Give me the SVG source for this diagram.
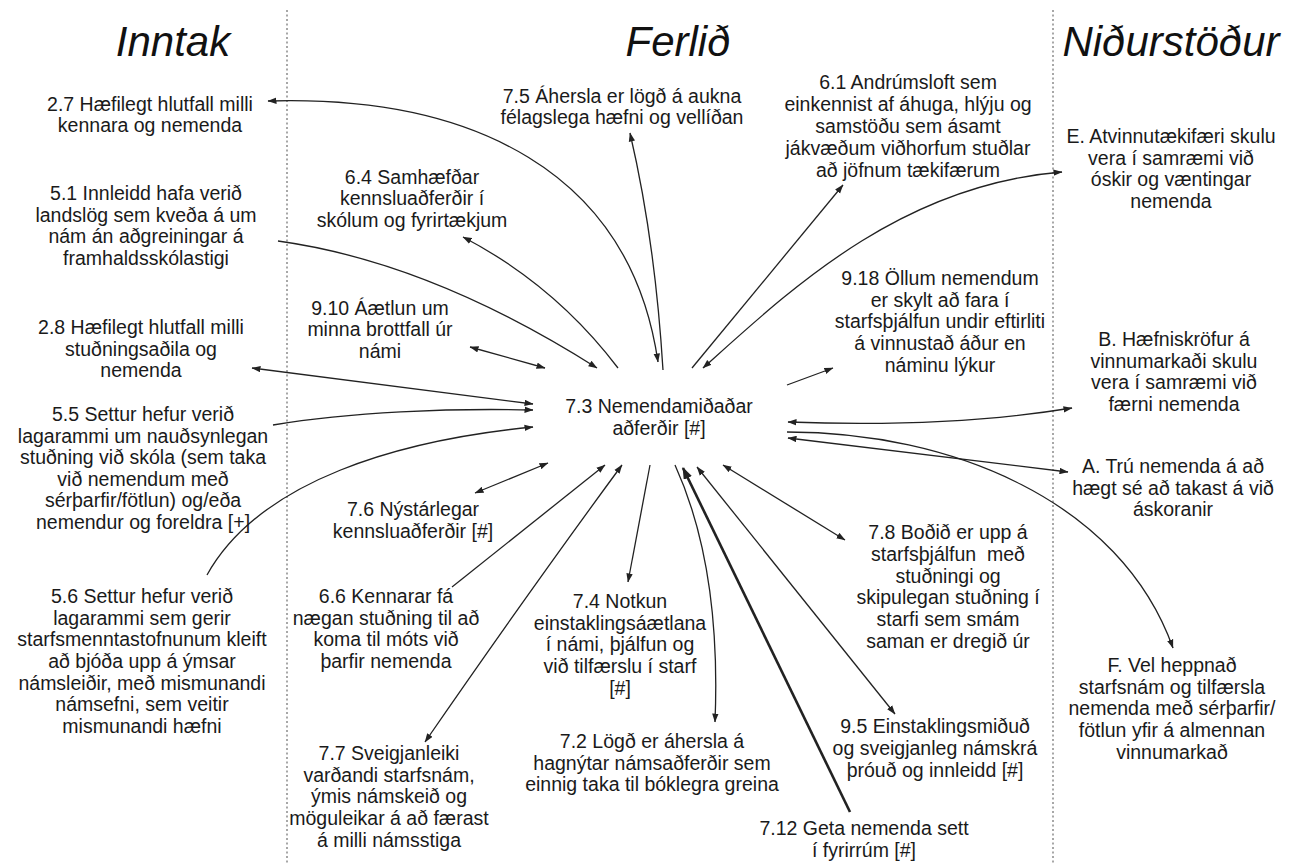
<svg xmlns="http://www.w3.org/2000/svg" width="1293" height="864" viewBox="0 0 1293 864">
  <style>
    .t { font-family: "Liberation Sans", Arial, Helvetica, sans-serif; font-size: 19.5px; fill: #1a1a1a; text-anchor: middle; }
    .h { font-family: "Liberation Sans", Arial, Helvetica, sans-serif; font-size: 42px; font-style: italic; fill: #111; text-anchor: middle; }
    .sep { stroke: #8a8a8a; stroke-width: 1.5; stroke-dasharray: 2 2.5; fill: none; }
    .c { stroke: #222; stroke-width: 1.3; fill: none; }
    .end { marker-end: url(#ah); }
    .both { marker-start: url(#ah); marker-end: url(#ah); }
    .thick { stroke-width: 2.6; marker-end: url(#ahBig); }
  </style>
  <defs>
    <marker id="ah" markerUnits="userSpaceOnUse" markerWidth="9" markerHeight="7" refX="8.5" refY="3.5" orient="auto-start-reverse">
      <path d="M0,0.3 L9,3.5 L0,6.7 z" fill="#222"/>
    </marker>
    <marker id="ahBig" markerUnits="userSpaceOnUse" markerWidth="12" markerHeight="9" refX="11" refY="4.5" orient="auto">
      <path d="M0,0 L12,4.5 L0,9 z" fill="#222"/>
    </marker>
  </defs>
  <rect width="1293" height="864" fill="#fff"/>

  <!-- column separators -->
  <g id="separators">
    <line class="sep" x1="287" y1="10" x2="287" y2="864"/>
    <line class="sep" x1="1053" y1="10" x2="1053" y2="864"/>
  </g>

  <!-- column headings -->
  <g id="headings">
    <text class="h" x="173" y="56">Inntak</text>
    <text class="h" x="678" y="56">Ferlið</text>
    <text class="h" x="1171" y="56">Niðurstöður</text>
  </g>

  <!-- connectors -->
  <g id="connectors">
    <path class="c both" d="M268,101 C470,95 630,170 658,362"/>
    <path class="c end" d="M278,241 Q430,262 597,368"/>
    <path class="c end" d="M618,368 Q555,285 463,237"/>
    <path class="c both" d="M470,347 L545,368"/>
    <path class="c both" d="M252,368 L533,404"/>
    <path class="c end" d="M273,425 C350,412 450,408 533,410"/>
    <path class="c end" d="M207,575 C260,480 400,440 533,427"/>
    <path class="c both" d="M475,493 L548,463"/>
    <path class="c end" d="M452,587 L605,465"/>
    <path class="c both" d="M622,465 Q530,590 425,742"/>
    <path class="c end" d="M650,465 L628,582"/>
    <path class="c end" d="M675,465 C700,520 720,600 715,722"/>
    <path class="c thick" d="M850,812 L683,468"/>
    <path class="c both" d="M697,467 L895,714"/>
    <path class="c both" d="M723,465 L845,540"/>
    <path class="c end" d="M787,432 C950,432 1120,500 1173,648"/>
    <path class="c both" d="M788,438 L1068,472"/>
    <path class="c both" d="M788,422 Q950,428 1072,408"/>
    <path class="c end" d="M787,385 L833,368"/>
    <path class="c end" d="M692,368 L843,185"/>
    <path class="c both" d="M703,368 C790,290 900,185 1062,172"/>
    <path class="c end" d="M663,370 Q655,240 630,133"/>
  </g>

  <!-- Inntak -->
  <g id="n-2-7"><text class="t"><tspan x="150" y="111">2.7 Hæfilegt hlutfall milli</tspan><tspan x="150" y="132">kennara og nemenda</tspan></text></g>
  <g id="n-5-1"><text class="t"><tspan x="146" y="200">5.1 Innleidd hafa verið</tspan><tspan x="146" y="222">landslög sem kveða á um</tspan><tspan x="146" y="243">nám án aðgreiningar á</tspan><tspan x="146" y="265">framhaldsskólastigi</tspan></text></g>
  <g id="n-2-8"><text class="t"><tspan x="141" y="334">2.8 Hæfilegt hlutfall milli</tspan><tspan x="141" y="356">stuðningsaðila og</tspan><tspan x="141" y="377">nemenda</tspan></text></g>
  <g id="n-5-5"><text class="t"><tspan x="143" y="421">5.5 Settur hefur verið</tspan><tspan x="143" y="443">lagarammi um nauðsynlegan</tspan><tspan x="143" y="464">stuðning við skóla (sem taka</tspan><tspan x="143" y="486">við nemendum með</tspan><tspan x="143" y="507">sérþarfir/fötlun) og/eða</tspan><tspan x="143" y="529">nemendur og foreldra [+]</tspan></text></g>
  <g id="n-5-6"><text class="t"><tspan x="142" y="603">5.6 Settur hefur verið</tspan><tspan x="142" y="625">lagarammi sem gerir</tspan><tspan x="142" y="646">starfsmenntastofnunum kleift</tspan><tspan x="142" y="668">að bjóða upp á ýmsar</tspan><tspan x="142" y="690">námsleiðir, með mismunandi</tspan><tspan x="142" y="711">námsefni, sem veitir</tspan><tspan x="142" y="733">mismunandi hæfni</tspan></text></g>

  <!-- Ferlið -->
  <g id="n-7-5"><text class="t"><tspan x="622" y="103">7.5 Áhersla er lögð á aukna</tspan><tspan x="622" y="124">félagslega hæfni og vellíðan</tspan></text></g>
  <g id="n-6-4"><text class="t"><tspan x="412" y="184">6.4 Samhæfðar</tspan><tspan x="412" y="205">kennsluaðferðir í</tspan><tspan x="412" y="227">skólum og fyrirtækjum</tspan></text></g>
  <g id="n-9-10"><text class="t"><tspan x="380" y="315">9.10 Áætlun um</tspan><tspan x="380" y="336">minna brottfall úr</tspan><tspan x="380" y="358">námi</tspan></text></g>
  <g id="n-7-3"><text class="t"><tspan x="659" y="413">7.3 Nemendamiðaðar</tspan><tspan x="659" y="435">aðferðir [#]</tspan></text></g>
  <g id="n-7-6"><text class="t"><tspan x="413" y="516">7.6 Nýstárlegar</tspan><tspan x="413" y="538">kennsluaðferðir [#]</tspan></text></g>
  <g id="n-6-6"><text class="t"><tspan x="386" y="603">6.6 Kennarar fá</tspan><tspan x="386" y="625">nægan stuðning til að</tspan><tspan x="386" y="646">koma til móts við</tspan><tspan x="386" y="668">þarfir nemenda</tspan></text></g>
  <g id="n-7-7"><text class="t"><tspan x="389" y="760">7.7 Sveigjanleiki</tspan><tspan x="389" y="782">varðandi starfsnám,</tspan><tspan x="389" y="803">ýmis námskeið og</tspan><tspan x="389" y="825">möguleikar á að færast</tspan><tspan x="389" y="847">á milli námsstiga</tspan></text></g>
  <g id="n-7-4"><text class="t"><tspan x="620" y="608">7.4 Notkun</tspan><tspan x="620" y="630">einstaklingsáætlana</tspan><tspan x="620" y="651">í námi, þjálfun og</tspan><tspan x="620" y="673">við tilfærslu í starf</tspan><tspan x="620" y="695">[#]</tspan></text></g>
  <g id="n-7-2"><text class="t"><tspan x="652" y="748">7.2 Lögð er áhersla á</tspan><tspan x="652" y="770">hagnýtar námsaðferðir sem</tspan><tspan x="652" y="791">einnig taka til bóklegra greina</tspan></text></g>
  <g id="n-7-12"><text class="t"><tspan x="864" y="835">7.12 Geta nemenda sett</tspan><tspan x="864" y="857">í fyrirrúm [#]</tspan></text></g>
  <g id="n-6-1"><text class="t"><tspan x="908" y="89">6.1 Andrúmsloft sem</tspan><tspan x="908" y="111">einkennist af áhuga, hlýju og</tspan><tspan x="908" y="133">samstöðu sem ásamt</tspan><tspan x="908" y="155">jákvæðum viðhorfum stuðlar</tspan><tspan x="908" y="177">að jöfnum tækifærum</tspan></text></g>
  <g id="n-9-18"><text class="t"><tspan x="940" y="285">9.18 Öllum nemendum</tspan><tspan x="940" y="307">er skylt að fara í</tspan><tspan x="940" y="328">starfsþjálfun undir eftirliti</tspan><tspan x="940" y="350">á vinnustað áður en</tspan><tspan x="940" y="372">náminu lýkur</tspan></text></g>
  <g id="n-7-8"><text class="t" xml:space="preserve"><tspan x="948" y="539">7.8 Boðið er upp á</tspan><tspan x="948" y="561">starfsþjálfun  með</tspan><tspan x="948" y="583">stuðningi og</tspan><tspan x="948" y="604">skipulegan stuðning í</tspan><tspan x="948" y="626">starfi sem smám</tspan><tspan x="948" y="648">saman er dregið úr</tspan></text></g>
  <g id="n-9-5"><text class="t"><tspan x="935" y="733">9.5 Einstaklingsmiðuð</tspan><tspan x="935" y="755">og sveigjanleg námskrá</tspan><tspan x="935" y="777">þróuð og innleidd [#]</tspan></text></g>

  <!-- Niðurstöður -->
  <g id="n-E"><text class="t"><tspan x="1171" y="143">E. Atvinnutækifæri skulu</tspan><tspan x="1171" y="165">vera í samræmi við</tspan><tspan x="1171" y="186">óskir og væntingar</tspan><tspan x="1171" y="208">nemenda</tspan></text></g>
  <g id="n-B"><text class="t"><tspan x="1174" y="346">B. Hæfniskröfur á</tspan><tspan x="1174" y="368">vinnumarkaði skulu</tspan><tspan x="1174" y="389">vera í samræmi við</tspan><tspan x="1174" y="411">færni nemenda</tspan></text></g>
  <g id="n-A"><text class="t"><tspan x="1173" y="473">A. Trú nemenda á að</tspan><tspan x="1173" y="495">hægt sé að takast á við</tspan><tspan x="1173" y="516">áskoranir</tspan></text></g>
  <g id="n-F"><text class="t"><tspan x="1172" y="672">F. Vel heppnað</tspan><tspan x="1172" y="694">starfsnám og tilfærsla</tspan><tspan x="1172" y="715">nemenda með sérþarfir/</tspan><tspan x="1172" y="737">fötlun yfir á almennan</tspan><tspan x="1172" y="759">vinnumarkað</tspan></text></g>
</svg>
